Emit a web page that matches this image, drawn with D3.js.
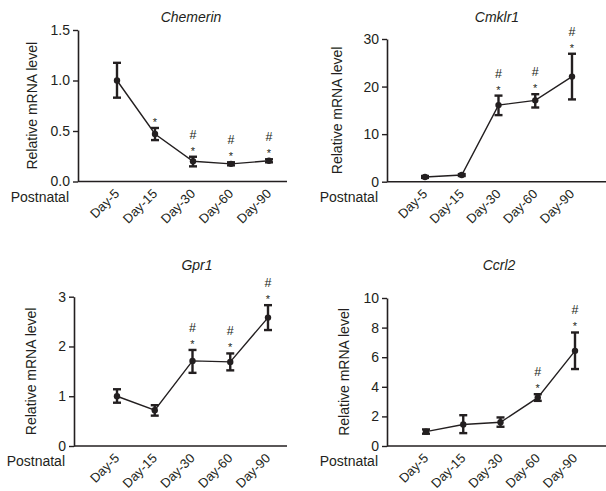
<!DOCTYPE html>
<html>
<head>
<meta charset="utf-8">
<script src="https://cdn.jsdelivr.net/npm/d3@7"></script>
<style>
  body { margin: 0; background: #fff; }
  svg { display: block; font-family: "Liberation Sans", Arial, sans-serif; }
</style>
</head>
<body>
<div id="container"></div>
<script>
const days = ["Day-5", "Day-15", "Day-30", "Day-60", "Day-90"];

const chemerinMean = [1.0, 0.47, 0.20, 0.175, 0.205];
const chemerinLow = [0.83, 0.41, 0.15, 0.16, 0.19];
const chemerinHigh = [1.175, 0.53, 0.245, 0.19, 0.22];
const chemerinSig = ["", "*", "#*", "#*", "#*"];
const chemerinTicks = [0, 0.5, 1.0, 1.5];

const cmklr1Mean = [1.0, 1.4, 16.1, 17.1, 22.1];
const cmklr1Low = [0.8, 1.2, 14.0, 15.6, 17.3];
const cmklr1High = [1.2, 1.6, 18.1, 18.4, 26.9];
const cmklr1Sig = ["", "", "#*", "#*", "#*"];
const cmklr1Ticks = [0, 10, 20, 30];

const gpr1Mean = [1.0, 0.72, 1.71, 1.69, 2.58];
const gpr1Low = [0.87, 0.61, 1.47, 1.52, 2.33];
const gpr1High = [1.14, 0.82, 1.93, 1.86, 2.83];
const gpr1Sig = ["", "", "#*", "#*", "#*"];
const gpr1Ticks = [0, 1, 2, 3];

const ccrl2Mean = [0.97, 1.45, 1.6, 3.27, 6.43];
const ccrl2Low = [0.83, 0.87, 1.3, 3.05, 5.2];
const ccrl2High = [1.12, 2.08, 1.93, 3.5, 7.67];
const ccrl2Sig = ["", "", "", "#*", "#*"];
const ccrl2Ticks = [0, 2, 4, 6, 8, 10];

const ink = "#231f20";

function draw() {
    const width = 606;
    const height = 491;

    const svg = d3.select("#container")
        .append("svg")
        .attr("width", width)
        .attr("height", height);

    const panels = [
        { title: "Chemerin", mean: chemerinMean, low: chemerinLow, high: chemerinHigh, sig: chemerinSig,
          ticks: chemerinTicks, fmt: d3.format(".1f"),
          axisX: 78, xFirst: 117, xLast: 269, xEnd: 287, top: 30, bottom: 181.5, labelX: 36.5, titleX: 191, titleY: 22 },
        { title: "Cmklr1", mean: cmklr1Mean, low: cmklr1Low, high: cmklr1High, sig: cmklr1Sig,
          ticks: cmklr1Ticks, fmt: d3.format("d"),
          axisX: 387, xFirst: 425, xLast: 572, xEnd: 606, top: 39, bottom: 181.7, labelX: 341.5, titleX: 497, titleY: 22 },
        { title: "Gpr1", mean: gpr1Mean, low: gpr1Low, high: gpr1High, sig: gpr1Sig,
          ticks: gpr1Ticks, fmt: d3.format("d"),
          axisX: 74, xFirst: 117, xLast: 268, xEnd: 287, top: 296.7, bottom: 446, labelX: 36, titleX: 197, titleY: 270 },
        { title: "Ccrl2", mean: ccrl2Mean, low: ccrl2Low, high: ccrl2High, sig: ccrl2Sig,
          ticks: ccrl2Ticks, fmt: d3.format("d"),
          axisX: 387, xFirst: 426, xLast: 575, xEnd: 606, top: 298, bottom: 446, labelX: 349, titleX: 499, titleY: 270 }
    ];

    panels.forEach(p => {
        const g = svg.append("g");

        const x = d3.scalePoint()
            .domain(days)
            .range([p.xFirst, p.xLast]);

        const y = d3.scaleLinear()
            .domain([0, d3.max(p.ticks)])
            .range([p.bottom, p.top]);

        // y axis
        const yAxis = g.append("g")
            .attr("transform", `translate(${p.axisX},0)`)
            .call(d3.axisLeft(y).tickValues(p.ticks).tickFormat(p.fmt)
                .tickSize(5).tickSizeOuter(0).tickPadding(3));
        yAxis.select(".domain").attr("stroke", ink).attr("stroke-width", 1.6);
        yAxis.selectAll(".tick line").attr("stroke", ink).attr("stroke-width", 1.4);
        yAxis.selectAll(".tick text")
            .attr("fill", ink)
            .style("font-size", "14px");

        // x axis line
        g.append("line")
            .attr("x1", p.axisX)
            .attr("x2", p.xEnd)
            .attr("y1", y(0))
            .attr("y2", y(0))
            .attr("stroke", ink)
            .attr("stroke-width", 1.6);

        g.selectAll(".day")
            .data(days)
            .join("text")
            .attr("class", "day")
            .attr("transform", d => `translate(${x(d) + 3},${y(0) + 13}) rotate(-45)`)
            .attr("text-anchor", "end")
            .attr("fill", ink)
            .style("font-size", "13px")
            .text(d => d);

        g.append("text")
            .attr("x", p.axisX - 9)
            .attr("y", y(0) + 20)
            .attr("text-anchor", "end")
            .attr("fill", ink)
            .style("font-size", "14px")
            .text("Postnatal");

        g.append("text")
            .attr("transform", `translate(${p.labelX},${(p.top + p.bottom) / 2}) rotate(-90)`)
            .attr("text-anchor", "middle")
            .attr("fill", ink)
            .style("font-size", "14px")
            .text("Relative mRNA level");

        g.append("text")
            .attr("x", p.titleX)
            .attr("y", p.titleY)
            .attr("text-anchor", "middle")
            .attr("fill", ink)
            .style("font-size", "14px")
            .style("font-style", "italic")
            .text(p.title);

        const rows = days.map((d, i) => ({ day: d, mean: p.mean[i], low: p.low[i], high: p.high[i], sig: p.sig[i] }));

        // connecting line
        g.append("path")
            .datum(rows)
            .attr("fill", "none")
            .attr("stroke", ink)
            .attr("stroke-width", 1.4)
            .attr("d", d3.line().x(d => x(d.day)).y(d => y(d.mean)));

        // error bars
        const eb = g.selectAll(".err")
            .data(rows)
            .join("g")
            .attr("class", "err")
            .attr("stroke", ink)
            .attr("stroke-width", 2.4);
        eb.append("line")
            .attr("x1", d => x(d.day)).attr("x2", d => x(d.day))
            .attr("y1", d => y(d.low)).attr("y2", d => y(d.high));
        eb.append("line")
            .attr("x1", d => x(d.day) - 4).attr("x2", d => x(d.day) + 4)
            .attr("y1", d => y(d.low)).attr("y2", d => y(d.low));
        eb.append("line")
            .attr("x1", d => x(d.day) - 4).attr("x2", d => x(d.day) + 4)
            .attr("y1", d => y(d.high)).attr("y2", d => y(d.high));

        g.selectAll(".pt")
            .data(rows)
            .join("circle")
            .attr("class", "pt")
            .attr("cx", d => x(d.day))
            .attr("cy", d => y(d.mean))
            .attr("r", 3.2)
            .attr("fill", ink);

        // significance marks
        g.selectAll(".star")
            .data(rows.filter(d => d.sig.includes("*")))
            .join("text")
            .attr("class", "star")
            .attr("x", d => x(d.day))
            .attr("y", d => y(d.high) - 2)
            .attr("text-anchor", "middle")
            .attr("fill", ink)
            .style("font-size", "11px")
            .text("*");

        g.selectAll(".hash")
            .data(rows.filter(d => d.sig.includes("#")))
            .join("text")
            .attr("class", "hash")
            .attr("x", d => x(d.day))
            .attr("y", d => y(d.high) - 18)
            .attr("text-anchor", "middle")
            .attr("fill", ink)
            .style("font-size", "12.5px")
            .text("#");
    });
}

draw();
</script>
</body>
</html>
